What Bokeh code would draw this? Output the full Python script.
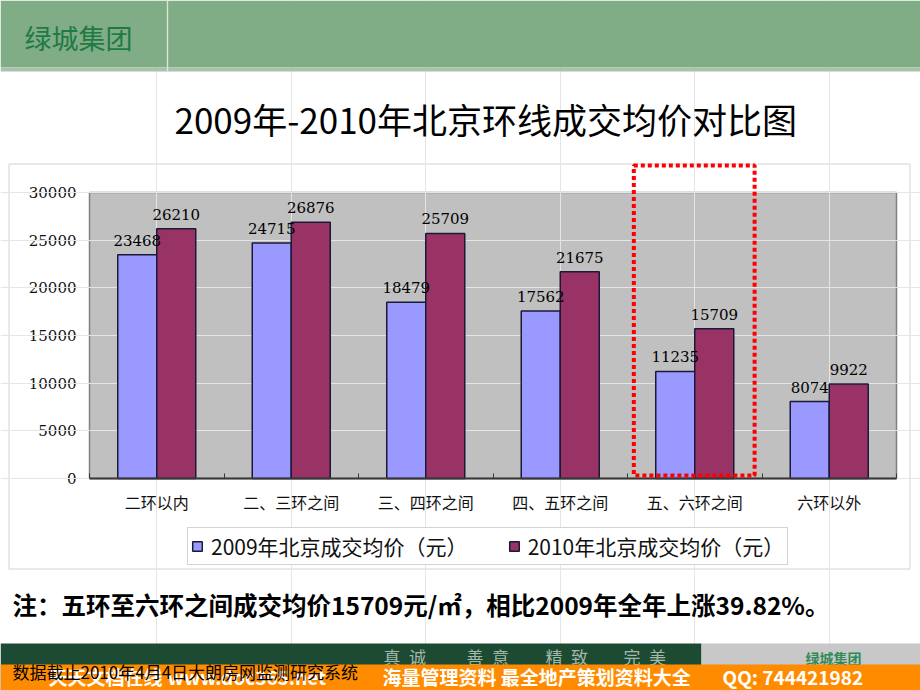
from bokeh.plotting import figure
from bokeh.models import (Range1d, ColumnDataSource, LabelSet, Legend, LegendItem,
                          BoxAnnotation, FixedTicker, Label, LinearAxis)
from bokeh.transform import dodge
from bokeh.core.properties import value
from bokeh.embed import file_html
from bokeh.resources import INLINE

# ---------------- data ----------------
categories = ["二环以内", "二、三环之间", "三、四环之间", "四、五环之间", "五、六环之间", "六环以外"]
price_2009 = [23468, 24715, 18479, 17562, 11235, 8074]
price_2010 = [26210, 26876, 25709, 21675, 15709, 9922]
y_ticks = [0, 5000, 10000, 15000, 20000, 25000, 30000]
series_names = ["2009年北京成交均价（元）", "2010年北京成交均价（元）"]
highlight_category = "五、六环之间"

title_text = "2009年-2010年北京环线成交均价对比图"
note_text = "注：五环至六环之间成交均价15709元/㎡，相比2009年全年上涨39.82%。"
source_text = "数据截止2010年4月4日大朗房网监测研究系统"
brand_text = "绿城集团"
slogan_words = ["真诚", "善意", "精致", "完美"]
banner_parts = ["天天文档在线", "www.doc365.net", "海量管理资料 最全地产策划资料大全", "QQ: 744421982"]

# ---------------- styles / layout (page pixel coordinates) ----------------
CJK = "Noto Sans CJK SC"
NUM = "DejaVu Serif"
C2009 = "#9999FF"
C2010 = "#993366"
BAR_EDGE = "#1a1a38"
HEADER_GREEN = "#80ad86"
DARK_GREEN = "#1c4a33"
ORANGE = "#ff8c00"

W, H = 920, 690
FL, FR, FB, GRAY_TOP = 89, 896, 478, 192   # plot area on the page
N = len(categories)
UNIT = (FR - FL) / N


def py(px):
    """page pixel y -> data y"""
    return (FB - px) * y_ticks[-1] / (FB - GRAY_TOP)


def px_(px):
    """page pixel x -> data x (category i is centred on i)"""
    return (px - FL) / UNIT - 0.5


p = figure(width=W, height=H, x_range=Range1d(px_(0), px_(W)), y_range=Range1d(py(H), py(0)),
           output_backend="svg", toolbar_location=None,
           x_axis_location=None, y_axis_location=None, min_border=0,
           background_fill_color="white", border_fill_color="white", outline_line_color=None)


def box(l, r, t, b, fill=None, line=None, lw=1.0, level="annotation"):
    p.add_layout(BoxAnnotation(left=px_(l), right=px_(r), top=py(t), bottom=py(b),
                               fill_color=fill, fill_alpha=1.0, line_color=line, line_alpha=1.0,
                               line_width=lw, level=level))


def label(x, y, text, size, color="black", style="normal", font=CJK, align="left"):
    p.add_layout(Label(x=px_(x), y=py(y), text=text,
                       text_font=font, text_font_size=size, text_color=color,
                       text_font_style=style, text_baseline="middle", text_align=align,
                       level="annotation"))


# ---------------- header ----------------
box(0, 920, 0, 67, fill=HEADER_GREEN)
box(0, 920, 67, 71, fill="#a9c3ab")
box(166.3, 167.7, 0, 71, fill="#d8e7d8")
label(24, 37, brand_text, "27px", color="#1f7a45")

# ---------------- title ----------------
label(174, 118, title_text, "35px")

# ---------------- chart ----------------
box(8.5, 909.5, 163.5, 568.5, line="#d2d2d2", lw=1, level="image")
p.add_layout(BoxAnnotation(left=-0.5, right=N - 0.5, bottom=0, top=y_ticks[-1],
                           fill_color="#c0c0c0", fill_alpha=1, line_color="#808080",
                           line_alpha=1, line_width=1.5, level="image"))

ticker_y = FixedTicker(ticks=y_ticks)
yaxis = LinearAxis(ticker=ticker_y, fixed_location=-0.5, bounds=(0, y_ticks[-1]),
                   axis_line_color=None, major_tick_in=int(FR - FL), major_tick_out=0,
                   major_tick_line_color="#858585", major_tick_line_width=1,
                   minor_tick_line_color=None, major_label_standoff=13,
                   major_label_text_font=NUM, major_label_text_font_size="15px",
                   major_label_text_color="#111111", level="underlay")
p.add_layout(yaxis, "left")

cat_pos = list(range(N))
src = ColumnDataSource(dict(xi=cat_pos, y09=price_2009, y10=price_2010,
                            l09=[str(v) for v in price_2009], l10=[str(v) for v in price_2010]))
BW = 0.29
r1 = p.vbar(x=dodge("xi", -BW / 2), top="y09", width=BW, source=src,
            fill_color=C2009, line_color=BAR_EDGE, line_width=1.5)
r2 = p.vbar(x=dodge("xi", BW / 2), top="y10", width=BW, source=src,
            fill_color=C2010, line_color=BAR_EDGE, line_width=1.5)

for off, fld, txt in [(-BW / 2, "y09", "l09"), (BW / 2, "y10", "l10")]:
    p.add_layout(LabelSet(x=dodge("xi", off), y=fld, text=txt, source=src,
                          text_align="center", text_baseline="alphabetic", y_offset=9,
                          text_font=value(NUM), text_font_size="15px", text_color="black"))

ticker_x = FixedTicker(ticks=cat_pos, minor_ticks=[i - 0.5 for i in range(N + 1)])
xaxis = LinearAxis(ticker=ticker_x, fixed_location=0, bounds=(-0.5, N - 0.5),
                   axis_line_color="#383838", axis_line_width=2,
                   major_tick_line_color=None, minor_tick_in=5, minor_tick_out=0,
                   minor_tick_line_color="#383838", minor_tick_line_width=1,
                   major_label_standoff=5, major_label_text_font=CJK,
                   major_label_text_font_size="16px", major_label_text_color="#111111",
                   major_label_overrides={i: c for i, c in zip(cat_pos, categories)})
p.add_layout(xaxis, "below")

idx = categories.index(highlight_category)
p.add_layout(BoxAnnotation(left=idx - 0.5 + 0.047, right=idx - 0.5 + 0.945, bottom=py(475), top=py(165),
                           fill_color=None, fill_alpha=0, line_color="red", line_alpha=1,
                           line_width=4, line_dash="4 3", level="overlay"))

legend = Legend(items=[LegendItem(label=series_names[0], renderers=[r1]),
                       LegendItem(label=series_names[1], renderers=[r2])],
                orientation="horizontal", location=(187, H - 565),
                label_text_font=CJK, label_text_font_size="21px", label_text_color="#111111",
                glyph_width=12, glyph_height=12, label_standoff=8, spacing=40,
                padding=3, margin=0, border_line_color="#a8a8a8", border_line_width=1,
                background_fill_color="white", background_fill_alpha=1)
p.add_layout(legend)

# ---------------- note + footer ----------------
label(12, 604, note_text, "24.5px", style="bold")
box(0, 701, 643, 700, fill=DARK_GREEN)
box(701, 920, 643, 700, fill="#c8c8c8")
for word, x in zip(slogan_words, [383, 466, 545, 623]):
    label(x, 656, "\u2002".join(word), "17px", color="#a3b8a9")
label(805, 657, brand_text, "14px", color="#2e8b57", style="bold")
box(0, 920, 664, 700, fill=ORANGE)
for part, x in zip(banner_parts, [48, 167, 382, 722]):
    label(x, 676, part, "19px", color="white", style="bold")
label(12, 671, source_text, "17px")

open("out.html", "w").write(file_html(p, INLINE))
